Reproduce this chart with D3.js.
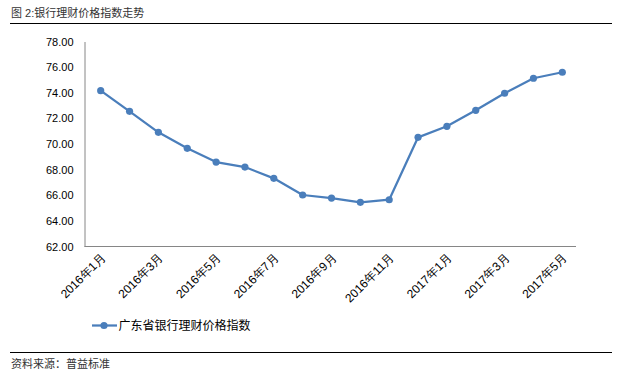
<!DOCTYPE html>
<html><head><meta charset="utf-8">
<script src="https://cdn.jsdelivr.net/npm/d3@7"></script>
<style>
html,body{margin:0;padding:0;background:#fff;}
svg{display:block;font-family:"Liberation Sans","Noto Sans CJK SC",sans-serif;}
</style></head>
<body>
<svg id="c" width="622" height="377"></svg>
<script>
const categories = ["2016年1月","2016年2月","2016年3月","2016年4月","2016年5月","2016年6月","2016年7月","2016年8月","2016年9月","2016年10月","2016年11月","2016年12月","2017年1月","2017年2月","2017年3月","2017年4月","2017年5月"];
const values = [74.16,72.55,70.91,69.66,68.59,68.20,67.32,66.02,65.78,65.45,65.65,70.52,71.38,72.63,73.96,75.13,75.60];
const yTicks = [62,64,66,68,70,72,74,76,78];
const seriesName = "广东省银行理财价格指数";
const title = "图 2:银行理财价格指数走势";
const source = "资料来源：普益标准";

const svg = d3.select("#c");
const color = "#4A7EBB";

// title & rules
svg.append("text").attr("x",11).attr("y",17).attr("font-size",11).attr("fill","#333").text(title);
svg.append("line").attr("x1",10).attr("x2",612).attr("y1",23.5).attr("y2",23.5).attr("stroke","#000").attr("stroke-width",1);
svg.append("line").attr("x1",10).attr("x2",612).attr("y1",352.5).attr("y2",352.5).attr("stroke","#000").attr("stroke-width",1);
svg.append("text").attr("x",11).attr("y",368).attr("font-size",11).attr("fill","#333").text(source);

const x = d3.scalePoint().domain(categories).range([100.7,562.3]);
const y = d3.scaleLinear().domain([62,78]).range([246.5,41.5]);

// axes
const yAxis = svg.append("g").attr("transform","translate(84.5,0)")
  .call(d3.axisLeft(y).tickValues(yTicks).tickFormat(d3.format(".2f")).tickSize(0).tickPadding(11));
yAxis.select(".domain").attr("stroke","#868686");
yAxis.selectAll("text").attr("font-size",11).attr("fill","#000").attr("font-family","Liberation Sans, sans-serif");

svg.append("line").attr("x1",84.5).attr("x2",576).attr("y1",246.5).attr("y2",246.5).attr("stroke","#868686");

const xAxis = svg.append("g").attr("transform","translate(0,246.5)")
  .call(d3.axisBottom(x).tickValues(categories.filter((d,i)=>i%2===0)).tickSize(0).tickPadding(0));
xAxis.select(".domain").remove();
xAxis.selectAll("text")
  .attr("font-size",12).attr("fill","#000")
  .attr("text-anchor","end")
  .attr("dy",0).attr("y",0)
  .attr("transform","translate(5,12) rotate(-45)");

// line
const line = d3.line().x((d,i)=>x(categories[i])).y(d=>y(d));
svg.append("path").datum(values).attr("d",line).attr("fill","none").attr("stroke",color).attr("stroke-width",2.25).attr("stroke-linejoin","round");
svg.selectAll("circle.pt").data(values).enter().append("circle").attr("class","pt")
  .attr("cx",(d,i)=>x(categories[i])).attr("cy",d=>y(d)).attr("r",3.6).attr("fill",color);

// legend
const lg = svg.append("g").attr("transform","translate(92,325.5)");
lg.append("line").attr("x1",0).attr("x2",25).attr("y1",0).attr("y2",0).attr("stroke",color).attr("stroke-width",2.25);
lg.append("circle").attr("cx",12).attr("cy",0).attr("r",3.6).attr("fill",color);
lg.append("text").attr("x",26.5).attr("y",4.5).attr("font-size",12).attr("fill","#000").text(seriesName);
</script>
</body></html>
